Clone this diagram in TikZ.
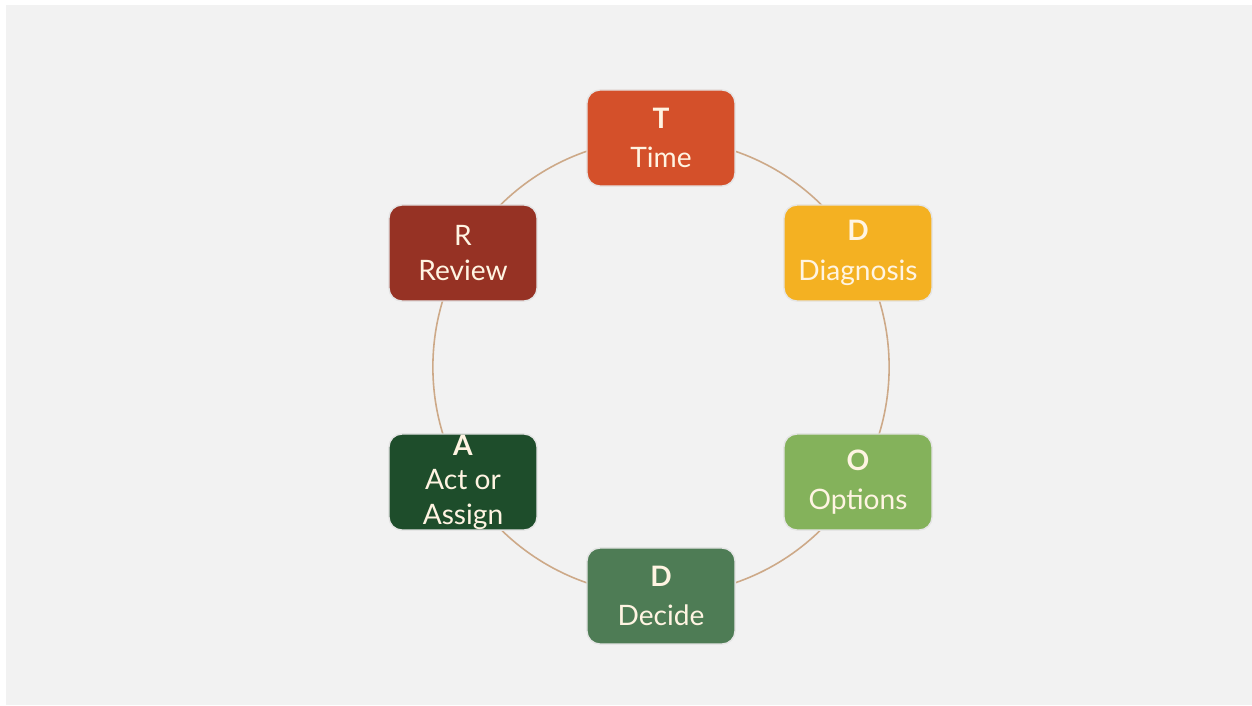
\documentclass[tikz,border=0pt]{standalone}
\usepackage{fontspec}
\setmainfont{Lato}
\definecolor{bg}{HTML}{F2F2F2}
\definecolor{cT}{HTML}{D4502A}
\definecolor{cDg}{HTML}{F4B122}
\definecolor{cO}{HTML}{84B25B}
\definecolor{cDc}{HTML}{4E7C55}
\definecolor{cA}{HTML}{1E4D2B}
\definecolor{cR}{HTML}{963224}
\definecolor{ring}{HTML}{CDA988}
\definecolor{txt}{HTML}{FFF4E2}
\begin{document}
\begin{tikzpicture}[x=0.01cm,y=-0.01cm,
  stepbox/.style={rectangle, rounded corners=1.3mm, minimum width=1.48cm, minimum height=0.96cm,
    inner sep=0pt, align=center, text=txt, draw=white!90!black, line width=0.4pt,
    font=\fontsize{8}{9.8}\selectfont}]
\useasboundingbox (0,0) rectangle (1252,705);
\fill[white] (0,0) rectangle (1252,705);
\fill[bg] (6,5) rectangle (1252,705);
\coordinate (c) at (661,367);
\draw[ring, line width=0.45pt] (c) circle (2.28cm);
\node[stepbox, fill=cT]  (t)  at (661,138) {\textbf{T}\\[1.5pt]Time};
\node[stepbox, fill=cDg] (dg) at (858,253) {\textbf{D}\\[1.5pt]Diagnosis};
\node[stepbox, fill=cO]  (o)  at (858,482) {\textbf{O}\\[1.5pt]Options};
\node[stepbox, fill=cDc] (dc) at (661,596) {\textbf{D}\\[1.5pt]Decide};
\node[stepbox, fill=cA]  (a)  at (463,482) {\textbf{A}\\Act or\\Assign};
\node[stepbox, fill=cR]  (r)  at (463,253) {R\\Review};
\end{tikzpicture}
\end{document}
